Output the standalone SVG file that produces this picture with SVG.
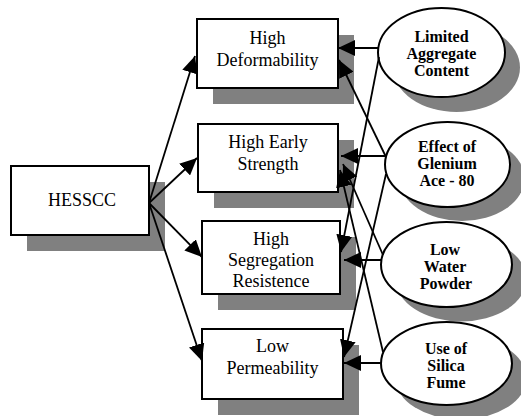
<svg xmlns="http://www.w3.org/2000/svg" width="521" height="416" viewBox="0 0 521 416">
<style>
.sh{fill:#808080;stroke:none}
.bx{fill:#fff;stroke:#000;stroke-width:2}
.t{font-family:"Liberation Serif","Times New Roman",serif;font-size:18px;text-anchor:middle;fill:#000}
.b{font-family:"Liberation Serif","Times New Roman",serif;font-size:16px;font-weight:bold;text-anchor:middle;fill:#000}
.c{stroke:#000;stroke-width:1.8;fill:none;marker-end:url(#ah)}
</style>
<defs>
<marker id="ah" viewBox="0 0 17 16" refX="17" refY="8" markerWidth="17" markerHeight="16" markerUnits="userSpaceOnUse" orient="auto">
<path d="M0,0 L17,8 L0,16 z" fill="#000"/>
</marker>
</defs>
<g id="hesscc">
<rect class="sh" x="27" y="182" width="138" height="69"/>
<rect class="bx" x="11" y="166" width="138" height="69"/>
<text class="t" x="82" y="206">HESSCC</text>
</g>
<g id="high-deformability">
<rect class="sh" x="213" y="35" width="141" height="69"/>
<rect class="bx" x="197" y="19" width="141" height="69"/>
<text class="t" x="267.5" y="43.5">High</text>
<text class="t" x="267.5" y="66">Deformability</text>
</g>
<g id="high-early-strength">
<rect class="sh" x="214" y="140" width="140" height="68"/>
<rect class="bx" x="198" y="124" width="140" height="68"/>
<text class="t" x="268" y="148">High Early</text>
<text class="t" x="268" y="169.5">Strength</text>
</g>
<g id="high-segregation-resistence">
<rect class="sh" x="218" y="237" width="138" height="73"/>
<rect class="bx" x="202" y="221" width="138" height="73"/>
<text class="t" x="271" y="245">High</text>
<text class="t" x="271" y="266">Segregation</text>
<text class="t" x="271" y="287">Resistence</text>
</g>
<g id="low-permeability">
<rect class="sh" x="218" y="345" width="141" height="70"/>
<rect class="bx" x="202" y="329" width="141" height="70"/>
<text class="t" x="272.5" y="352">Low</text>
<text class="t" x="272.5" y="373.5">Permeability</text>
</g>
<g id="limited-aggregate-content">
<ellipse class="sh" cx="456.5" cy="67.5" rx="63.5" ry="44.5"/>
<ellipse class="bx" cx="441.5" cy="52.5" rx="63.5" ry="44.5"/>
<text class="b" x="441.5" y="41.5">Limited</text>
<text class="b" x="441.5" y="59">Aggregate</text>
<text class="b" x="441.5" y="76">Content</text>
</g>
<g id="effect-of-glenium">
<ellipse class="sh" cx="462" cy="178.5" rx="62.5" ry="42.5"/>
<ellipse class="bx" cx="447.5" cy="164.5" rx="62.5" ry="42.5"/>
<text class="b" x="447" y="152">Effect of</text>
<text class="b" x="447" y="169">Glenium</text>
<text class="b" x="447" y="186">Ace - 80</text>
</g>
<g id="low-water-powder">
<ellipse class="sh" cx="461" cy="279" rx="65.5" ry="42.5"/>
<ellipse class="bx" cx="446.5" cy="264.5" rx="65.5" ry="42.5"/>
<text class="b" x="445" y="255">Low</text>
<text class="b" x="445" y="272">Water</text>
<text class="b" x="446" y="288.5">Powder</text>
</g>
<g id="use-of-silica-fume">
<ellipse class="sh" cx="461" cy="378" rx="65.5" ry="41.5"/>
<ellipse class="bx" cx="446.5" cy="363.5" rx="65.5" ry="41.5"/>
<text class="b" x="446" y="353.5">Use of</text>
<text class="b" x="446" y="370.5">Silica</text>
<text class="b" x="446" y="387.5">Fume</text>
</g>
<g id="connectors">
<line class="c" x1="149" y1="203" x2="195" y2="56"/>
<line class="c" x1="149" y1="203" x2="197" y2="158"/>
<line class="c" x1="149" y1="203" x2="202" y2="257"/>
<line class="c" x1="149" y1="203" x2="202" y2="361"/>
<line class="c" x1="379" y1="48" x2="338" y2="48"/>
<line class="c" x1="379" y1="57" x2="341" y2="252"/>
<line class="c" x1="386" y1="157" x2="339" y2="60"/>
<line class="c" x1="386" y1="156" x2="341" y2="156"/>
<line class="c" x1="386" y1="174" x2="344" y2="357"/>
<line class="c" x1="383" y1="255" x2="343" y2="164"/>
<line class="c" x1="381" y1="260" x2="344" y2="260"/>
<line class="c" x1="383" y1="352" x2="340" y2="170"/>
<line class="c" x1="381" y1="363" x2="344" y2="363"/>
</g>
</svg>
